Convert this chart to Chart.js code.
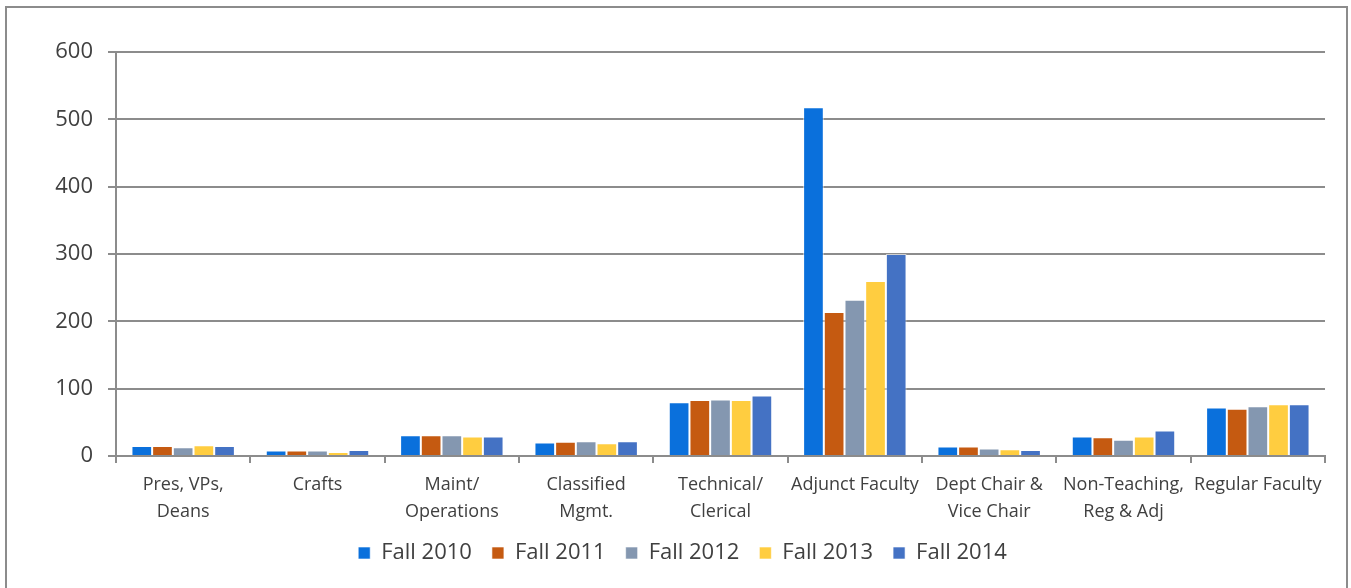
<!DOCTYPE html>
<html>
<head>
<meta charset="utf-8">
<script src="https://cdn.jsdelivr.net/npm/chart.js@4.4.1/dist/chart.umd.min.js"></script>
<style>
  html, body { margin: 0; padding: 0; background: #fff; overflow: hidden; }
  #frame { position: absolute; left: 5px; top: 6px; width: 1339px; height: 600px; border: 2px solid #8c8c8c; }
  #wrap { position: absolute; left: 0; top: 0; width: 1351px; height: 588px; }
</style>
</head>
<body>
<div id="frame"></div>
<div id="wrap"><canvas id="chart" width="1351" height="588"></canvas></div>
<script>
// Categories (x axis)
const categories = [
  ['Pres, VPs,', 'Deans'],
  'Crafts',
  ['Maint/', 'Operations'],
  ['Classified', 'Mgmt.'],
  ['Technical/', 'Clerical'],
  'Adjunct Faculty',
  ['Dept Chair &', 'Vice Chair'],
  ['Non-Teaching,', 'Reg & Adj'],
  'Regular Faculty'
];

// Series values
const fall2010 = [15, 8, 31, 20, 80, 518, 14, 29, 72];
const fall2011 = [15, 8, 31, 21, 83, 214, 14, 28, 70];
const fall2012 = [13, 8, 31, 22, 84, 232, 11, 24, 74];
const fall2013 = [16, 6, 29, 19, 83, 260, 10, 29, 77];
const fall2014 = [15, 9, 29, 22, 90, 300, 9, 38, 77];

const seriesNames = ['Fall 2010', 'Fall 2011', 'Fall 2012', 'Fall 2013', 'Fall 2014'];
const seriesColors = ['#0a70dc', '#c55a11', '#8497b0', '#ffcd40', '#4472c4'];
const seriesData = [fall2010, fall2011, fall2012, fall2013, fall2014];

const datasets = seriesData.map((vals, i) => ({
  label: seriesNames[i],
  data: vals,
  backgroundColor: seriesColors[i],
  borderColor: 'rgba(255,255,255,0.6)',
  borderWidth: 1,
  borderSkipped: 'bottom',
  barPercentage: 1.0,
  categoryPercentage: 0.77
}));

const textColor = '#404040';
const gridColor = '#8c8c8c';
const fontFamily = "'Open Sans', 'Noto Sans', sans-serif";

const ctx = document.getElementById('chart').getContext('2d');
new Chart(ctx, {
  type: 'bar',
  data: { labels: categories, datasets: datasets },
  options: {
    responsive: false,
    animation: false,
    layout: { padding: { top: 52, right: 26, left: 40, bottom: 14 } },
    plugins: {
      title: { display: false },
      tooltip: { enabled: false },
      legend: {
        position: 'bottom',
        labels: {
          color: textColor,
          font: { family: fontFamily, size: 22 },
          usePointStyle: true,
          pointStyle: 'rect',
          boxWidth: 12,
          boxHeight: 12,
          padding: 20
        }
      }
    },
    scales: {
      x: {
        offset: true,
        afterFit: function(scale) { scale.height -= 11; },
        grid: {
          offset: true,
          drawOnChartArea: false,
          drawTicks: true,
          tickLength: 7,
          color: gridColor,
          lineWidth: 2
        },
        border: { color: gridColor, width: 2 },
        ticks: {
          color: textColor,
          font: { family: fontFamily, size: 18, lineHeight: 1.5 },
          maxRotation: 0,
          autoSkip: false,
          padding: 8
        }
      },
      y: {
        min: 0,
        max: 600,
        afterFit: function(scale) { scale.width = 76; },
        grid: {
          color: gridColor,
          lineWidth: 2,
          tickLength: 8
        },
        border: { color: gridColor, width: 2 },
        ticks: {
          stepSize: 100,
          color: textColor,
          font: { family: fontFamily, size: 22 },
          padding: 15
        }
      }
    }
  }
});
</script>
</body>
</html>
